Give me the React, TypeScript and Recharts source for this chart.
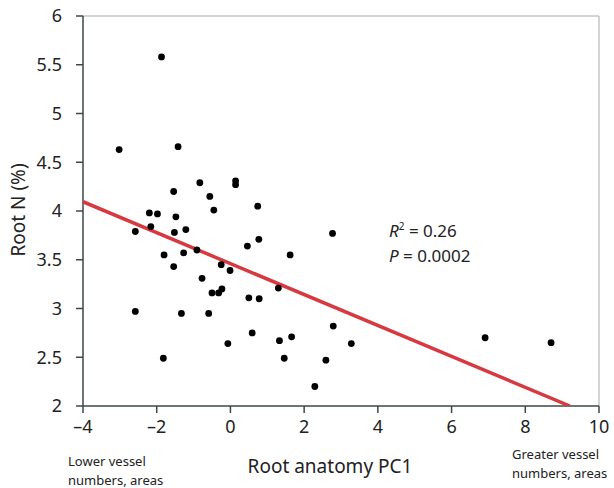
import React from "react";
import { ScatterChart, Scatter, XAxis, YAxis, ReferenceLine } from "recharts";

const pcValues = [-1.87, -3.02, -1.42, -0.83, -1.54, -0.56, 0.14, 0.14, 0.74, -0.45, -2.58, -2.2, -1.98, -2.16, -1.48, -1.52, -1.21, -1.8, -1.27, -1.54, -0.91, -0.25, -0.01, 0.46, 0.77, -0.77, -0.5, -0.32, -0.23, 0.5, 0.78, -2.58, -1.33, -0.59, 0.59, -0.07, -1.82, 2.77, 1.62, 1.3, 2.79, 1.33, 1.66, 3.28, 1.46, 2.59, 2.29, 6.91, 8.7];
const rootN = [5.58, 4.63, 4.66, 4.29, 4.2, 4.15, 4.31, 4.27, 4.05, 4.01, 3.79, 3.98, 3.97, 3.84, 3.94, 3.78, 3.81, 3.55, 3.57, 3.43, 3.6, 3.45, 3.39, 3.64, 3.71, 3.31, 3.16, 3.16, 3.2, 3.11, 3.1, 2.97, 2.95, 2.95, 2.75, 2.64, 2.49, 3.77, 3.55, 3.21, 2.82, 2.67, 2.71, 2.64, 2.49, 2.47, 2.2, 2.7, 2.65];
const fitX = [-4, 9.21];
const fitY = [4.095, 2];
const xTicks = [-4, -2, 0, 2, 4, 6, 8, 10];
const yTicks = [2, 2.5, 3, 3.5, 4, 4.5, 5, 5.5, 6];

const points = pcValues.map((x, i) => ({ x, y: rootN[i] }));
const fitLine = fitX.map((x, i) => ({ x, y: fitY[i] }));

const FONT = "'Noto Sans', sans-serif";
const AXIS = "#3c4848";

const fmtX = (v: number) => (v < 0 ? "\u2013" + Math.abs(v) : String(v));

export default function App() {
  return (
    <div style={{ position: "absolute", left: 0, top: 0, width: 614, height: 488, background: "#fff", fontFamily: FONT }}>
      <ScatterChart width={614} height={488} margin={{ top: 16, right: 15, bottom: 52, left: 0 }}>
        <XAxis
          type="number"
          dataKey="x"
          domain={[-4, 10]}
          ticks={xTicks}
          tickFormatter={fmtX}
          height={30}
          stroke={AXIS}
          strokeWidth={1.5}
          tickSize={7}
          tickMargin={7}
          tick={{ fill: "#222", fontSize: 18, fontFamily: FONT }}
          allowDataOverflow
        />
        <YAxis
          type="number"
          dataKey="y"
          domain={[2, 6]}
          ticks={yTicks}
          width={83}
          stroke={AXIS}
          strokeWidth={1.5}
          tickSize={7}
          tickMargin={14}
          tick={{ fill: "#222", fontSize: 18, fontFamily: FONT }}
          allowDataOverflow
        />
        <ReferenceLine y={6} stroke="#c4c4c4" strokeWidth={1.5} />
        <ReferenceLine x={10} stroke="#c4c4c4" strokeWidth={1.5} />
        <Scatter
          data={fitLine}
          line={{ stroke: "#d63a40", strokeWidth: 3.5 }}
          shape={() => <g />}
          isAnimationActive={false}
        />
        <Scatter
          data={points}
          fill="#000"
          shape={(p: any) => <circle cx={p.cx} cy={p.cy} r={3.4} fill="#000" />}
          isAnimationActive={false}
        />
      </ScatterChart>
      <div style={{ position: "absolute", left: 18, top: 210, transform: "translate(-50%,-50%) rotate(-90deg)", fontSize: 19, color: "#222", whiteSpace: "nowrap" }}>
        Root N (%)
      </div>
      <div style={{ position: "absolute", left: 330, top: 466, transform: "translate(-50%,-50%)", fontSize: 19, color: "#222", whiteSpace: "nowrap" }}>
        Root anatomy PC1
      </div>
      <div style={{ position: "absolute", left: 68, top: 452, fontSize: 13, lineHeight: "19px", color: "#222" }}>
        Lower vessel<br />numbers, areas
      </div>
      <div style={{ position: "absolute", left: 512, top: 445, fontSize: 13, lineHeight: "19px", color: "#222" }}>
        Greater vessel<br />numbers, areas
      </div>
      <div style={{ position: "absolute", left: 389, top: 214, fontSize: 17, lineHeight: "25px", color: "#222", whiteSpace: "nowrap" }}>
        <div><i>R</i><sup style={{ fontSize: 10 }}>2</sup> = 0.26</div>
        <div><i>P</i> = 0.0002</div>
      </div>
    </div>
  );
}
